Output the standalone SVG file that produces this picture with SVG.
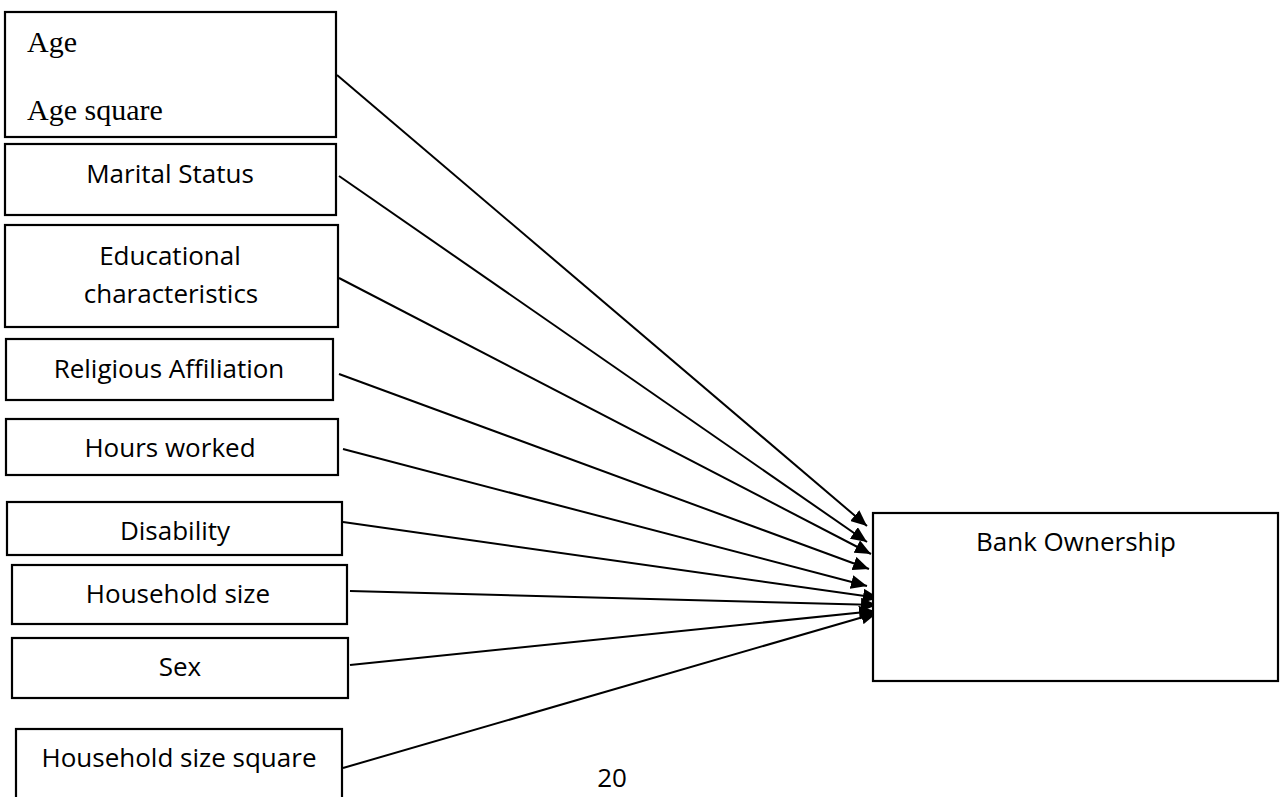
<svg xmlns="http://www.w3.org/2000/svg" width="1281" height="797" viewBox="0 0 1281 797">
<style>
.box{fill:#fff;stroke:#000;stroke-width:2.2}
.t{font-family:"Open Sans","Liberation Sans",sans-serif;font-size:26px;fill:#000;text-anchor:middle}
.s{font-family:"Liberation Serif","Times New Roman",serif;font-size:30px;fill:#000}
.c{stroke:#000;stroke-width:2;fill:none;marker-end:url(#ah)}
</style>
<defs>
<marker id="ah" markerUnits="userSpaceOnUse" markerWidth="18" markerHeight="14" refX="16" refY="7" orient="auto">
<path d="M0,0 L16,7 L0,14 Z" fill="#000"/>
</marker>
</defs>
<rect width="1281" height="797" fill="#fff"/>
<g id="connectors">
<line class="c" x1="337" y1="75" x2="867" y2="526"/>
<line class="c" x1="339" y1="176" x2="867" y2="542"/>
<line class="c" x1="339" y1="278" x2="871" y2="554"/>
<line class="c" x1="339" y1="374" x2="869" y2="569"/>
<line class="c" x1="343" y1="449" x2="867" y2="586"/>
<line class="c" x1="343" y1="522" x2="879" y2="598"/>
<line class="c" x1="350" y1="591" x2="877" y2="605"/>
<line class="c" x1="350" y1="665" x2="875" y2="611"/>
<line class="c" x1="343" y1="768" x2="877" y2="613"/>
</g>
<g id="n-age">
<rect class="box" x="5" y="12" width="331" height="125"/>
<text class="s" x="27" y="52">Age</text>
<text class="s" x="27" y="120">Age square</text>
</g>
<g id="n-marital">
<rect class="box" x="5" y="144" width="331" height="71"/>
<text class="t" x="170" y="183">Marital Status</text>
</g>
<g id="n-edu">
<rect class="box" x="5" y="225" width="333" height="102"/>
<text class="t" x="170" y="265">Educational</text>
<text class="t" x="171" y="303">characteristics</text>
</g>
<g id="n-rel">
<rect class="box" x="6" y="339" width="327" height="61"/>
<text class="t" x="169" y="378">Religious Affiliation</text>
</g>
<g id="n-hours">
<rect class="box" x="6" y="419" width="332" height="56"/>
<text class="t" x="170" y="457">Hours worked</text>
</g>
<g id="n-dis">
<rect class="box" x="7" y="502" width="335" height="53"/>
<text class="t" x="175" y="540">Disability</text>
</g>
<g id="n-hh">
<rect class="box" x="12" y="565" width="335" height="59"/>
<text class="t" x="178" y="603">Household size</text>
</g>
<g id="n-sex">
<rect class="box" x="12" y="638" width="336" height="60"/>
<text class="t" x="180" y="676">Sex</text>
</g>
<g id="n-hhsq">
<rect class="box" x="16" y="729" width="326" height="80"/>
<text class="t" x="179" y="767">Household size square</text>
</g>
<g id="n-bank">
<rect class="box" x="873" y="513" width="405" height="168"/>
<text class="t" x="1076" y="551">Bank Ownership</text>
</g>
<text class="t" x="612" y="787">20</text>
</svg>
